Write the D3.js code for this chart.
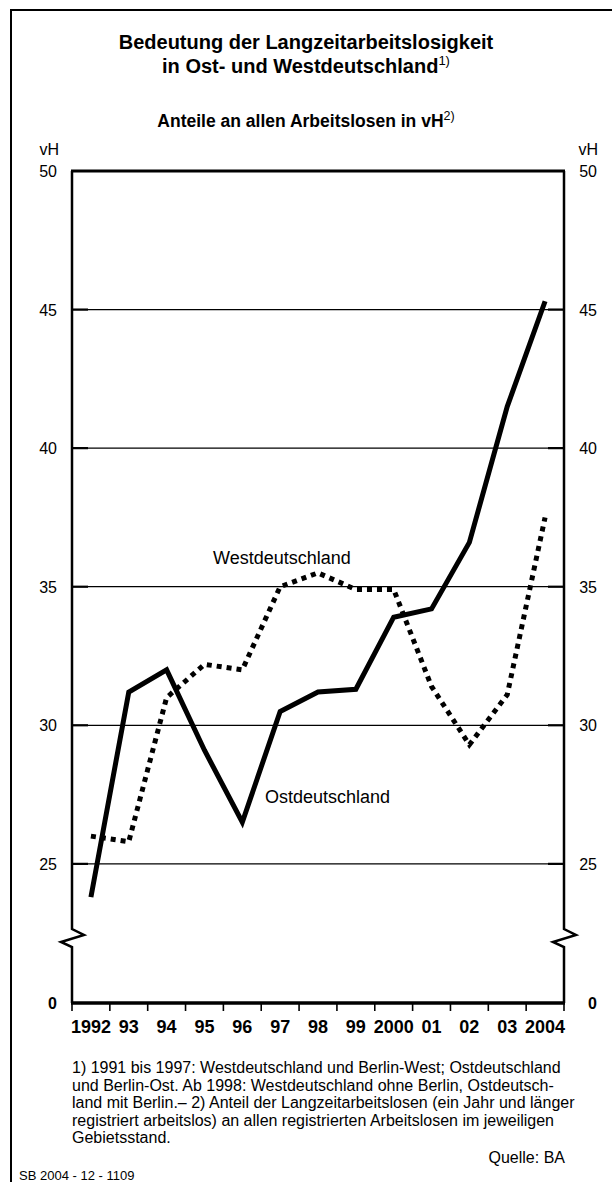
<!DOCTYPE html>
<html>
<head>
<meta charset="utf-8">
<script src="https://cdn.jsdelivr.net/npm/d3@7"></script>
<style>
  html, body { margin: 0; padding: 0; background: #fff; }
  svg { display: block; font-family: "Liberation Sans", Arial, Helvetica, sans-serif; }
</style>
</head>
<body>
<svg id="chart" width="612" height="1182"></svg>
<script>
/**
 * Langzeitarbeitslosigkeit in Ost- und Westdeutschland
 * Zwei Linien (Ost durchgezogen, West gepunktet), y-Achse mit Bruch zwischen 0 und 25
 */

// --- data ---
const years = [1992, 1993, 1994, 1995, 1996, 1997, 1998, 1999, 2000, 2001, 2002, 2003, 2004];
const yearLabels = ['1992', '93', '94', '95', '96', '97', '98', '99', '2000', '01', '02', '03', '2004'];
const ost = [23.8, 31.2, 32.0, 29.1, 26.5, 30.5, 31.2, 31.3, 33.9, 34.2, 36.6, 41.5, 45.3];
const west = [26.0, 25.8, 31.0, 32.2, 32.0, 35.0, 35.5, 34.9, 34.9, 31.4, 29.3, 31.1, 37.5];
const gridValues = [25, 30, 35, 40, 45];
const tickValues = [0, 25, 30, 35, 40, 45, 50];
const footnoteLines = [
  '1) 1991 bis 1997: Westdeutschland und Berlin-West; Ostdeutschland',
  'und Berlin-Ost. Ab 1998: Westdeutschland ohne Berlin, Ostdeutsch-',
  'land mit Berlin.– 2) Anteil der Langzeitarbeitslosen (ein Jahr und länger',
  'registriert arbeitslos) an allen registrierten Arbeitslosen im jeweiligen',
  'Gebietsstand.'
];

const svg = d3.select('#chart');
const plotLeft = 72, plotRight = 564, plotTop = 171, plotBottom = 1003;

// x: one band per year, points at the band centre, ticks on the band edges
const x = d3.scaleBand().domain(years).range([plotLeft, plotRight]).padding(0);
const xc = d => x(d) + x.bandwidth() / 2;

// y: piecewise, the stretch 0..22 is squeezed below the axis break
const y = d3.scaleLinear().domain([0, 22, 50]).range([plotBottom, 947, plotTop]);

// outer frame (right and bottom edge run off the page)
svg.append('rect')
  .attr('x', 11).attr('y', 10)
  .attr('width', 640).attr('height', 1220)
  .attr('fill', 'none').attr('stroke', '#000').attr('stroke-width', 2);

// --- titles ---
const title = svg.append('g').attr('font-weight', 'bold').attr('text-anchor', 'middle');
title.append('text').attr('x', 306).attr('y', 49).attr('font-size', 20)
  .text('Bedeutung der Langzeitarbeitslosigkeit');
const t2 = title.append('text').attr('x', 306).attr('y', 73).attr('font-size', 20);
t2.append('tspan').text('in Ost- und Westdeutschland');
t2.append('tspan').attr('dy', -8).attr('font-size', 13).attr('font-weight', 'normal').text('1)');
const t3 = title.append('text').attr('x', 306).attr('y', 127).attr('font-size', 17.5);
t3.append('tspan').text('Anteile an allen Arbeitslosen in vH');
t3.append('tspan').attr('dy', -7).attr('font-size', 12.5).attr('font-weight', 'normal').text('2)');

// --- grid lines with short heavier ticks at both axes ---
const grid = svg.append('g').attr('stroke', '#000');
grid.selectAll('line.grid')
  .data(gridValues)
  .enter().append('line')
  .attr('class', 'grid')
  .attr('x1', plotLeft).attr('x2', plotRight)
  .attr('y1', d => y(d)).attr('y2', d => y(d))
  .attr('stroke-width', 1.3);
grid.selectAll('line.tl')
  .data(gridValues)
  .enter().append('line')
  .attr('class', 'tl')
  .attr('x1', plotLeft).attr('x2', plotLeft + 16)
  .attr('y1', d => y(d)).attr('y2', d => y(d))
  .attr('stroke-width', 2.2);
grid.selectAll('line.tr')
  .data(gridValues)
  .enter().append('line')
  .attr('class', 'tr')
  .attr('x1', plotRight - 16).attr('x2', plotRight)
  .attr('y1', d => y(d)).attr('y2', d => y(d))
  .attr('stroke-width', 2.2);

// --- frame of the plot: top, bottom and the two broken side axes ---
const frame = svg.append('g').attr('fill', 'none').attr('stroke', '#000');
frame.append('line')
  .attr('x1', plotLeft - 1).attr('x2', plotRight + 1).attr('y1', plotTop).attr('y2', plotTop)
  .attr('stroke-width', 3);
frame.append('line')
  .attr('x1', plotLeft - 1).attr('x2', plotRight + 1).attr('y1', plotBottom).attr('y2', plotBottom)
  .attr('stroke-width', 3.5);

function brokenAxis(ax) {
  const p = d3.path();
  p.moveTo(ax, plotTop);
  p.lineTo(ax, 929);
  p.lineTo(ax + 12, 935);
  p.lineTo(ax - 11, 942);
  p.lineTo(ax, 947);
  p.lineTo(ax, plotBottom);
  return p.toString();
}
frame.append('path').attr('d', brokenAxis(plotLeft)).attr('stroke-width', 2.5);
frame.append('path').attr('d', brokenAxis(plotRight)).attr('stroke-width', 2.5);

// x ticks on the band edges
const edges = years.map(d => x(d)).concat([plotRight]);
frame.selectAll('line.xt')
  .data(edges)
  .enter().append('line')
  .attr('class', 'xt')
  .attr('x1', d => d).attr('x2', d => d)
  .attr('y1', plotBottom).attr('y2', plotBottom + 8)
  .attr('stroke-width', 1.6);

// --- tick labels ---
const yl = svg.append('g').attr('font-size', 16).attr('text-anchor', 'end');
yl.selectAll('text')
  .data(tickValues)
  .enter().append('text')
  .attr('x', 57)
  .attr('y', d => y(d) + 6)
  .attr('font-weight', d => d === 0 ? 'bold' : 'normal')
  .text(d => d);
yl.append('text').attr('x', 59).attr('y', 155).text('vH');

const yr = svg.append('g').attr('font-size', 16).attr('text-anchor', 'end');
yr.selectAll('text')
  .data(tickValues)
  .enter().append('text')
  .attr('x', 597)
  .attr('y', d => y(d) + 6)
  .attr('font-weight', d => d === 0 ? 'bold' : 'normal')
  .text(d => d);
yr.append('text').attr('x', 598).attr('y', 155).text('vH');

svg.append('g')
  .attr('font-size', 18).attr('font-weight', 'bold').attr('text-anchor', 'middle')
  .selectAll('text')
  .data(years)
  .enter().append('text')
  .attr('x', d => xc(d))
  .attr('y', 1033)
  .text((d, i) => yearLabels[i]);

// --- series ---
const line = d3.line()
  .x((d, i) => xc(years[i]))
  .y(d => y(d));

svg.append('path')
  .datum(west)
  .attr('d', line)
  .attr('fill', 'none')
  .attr('stroke', '#000')
  .attr('stroke-width', 5)
  .attr('stroke-dasharray', '5,5');

svg.append('path')
  .datum(ost)
  .attr('d', line)
  .attr('fill', 'none')
  .attr('stroke', '#000')
  .attr('stroke-width', 5)
  .attr('stroke-linejoin', 'miter');

// series labels
svg.append('text').attr('x', 213).attr('y', 564).attr('font-size', 18).text('Westdeutschland');
svg.append('text').attr('x', 265).attr('y', 803).attr('font-size', 18).text('Ostdeutschland');

// --- footnotes ---
const foot = svg.append('text').attr('font-size', 16);
footnoteLines.forEach((t, i) => {
  foot.append('tspan').attr('x', 72).attr('y', 1073 + i * 17.5).text(t);
});
svg.append('text').attr('x', 565).attr('y', 1163).attr('font-size', 16)
  .attr('text-anchor', 'end').text('Quelle: BA');
svg.append('text').attr('x', 19).attr('y', 1180).attr('font-size', 13)
  .text('SB 2004 - 12 - 1109');
</script>
</body>
</html>
